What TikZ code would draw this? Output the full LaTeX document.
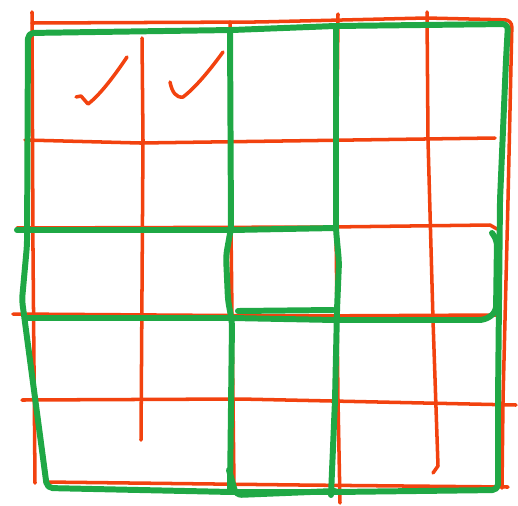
\documentclass[tikz,border=0pt]{standalone}
\usepackage{tikz}
\usetikzlibrary{calc}
\definecolor{pen}{HTML}{F2420F}
\definecolor{marker}{HTML}{1FA845}

\tikzset{
  redline/.style={pen,line width=5pt,line cap=round,line join=round},
  greenline/.style={marker,line width=8.5pt,line cap=round,line join=round,rounded corners=8pt}
}

\begin{document}
\begin{tikzpicture}[x=0.05cm,y=-0.05cm]
  \useasboundingbox (0,0) rectangle (518,505);

  % Red grid, vertical strokes
  \draw[redline] (32,12) -- (33,250) -- (35,483);
  \draw[redline] (142,38) -- (143,140) -- (141,440);
  \draw[redline] (230,22) -- (231,230) -- (234,486);
  \draw[redline] (338,14) -- (336,230) -- (338,400) -- (340,503);
  \draw[redline] (427,12) -- (428,140) -- (433,320) -- (438,466) -- (433,473);
  \draw[redline,rounded corners=10pt] (32,23) -- (258,22) -- (426,18) -- (512,20) -- (508,200) -- (503,400) -- (502,488);

  % Red grid, horizontal strokes
  \draw[redline] (25,140) -- (140,143) -- (495,138);
  \draw[redline] (17,228) -- (330,227) -- (490,225) -- (497,229);
  \draw[redline] (13,314) -- (300,316) -- (498,315);
  \draw[redline] (22,400) -- (240,399) -- (516,405);
  \draw[redline] (45,482) -- (300,485) -- (508,487);

  % Ticks
  \draw[redline] (76,97) -- (81,96) -- (88,104) .. controls (100,95) and (115,75) .. (127,57);
  \draw[redline] (170,82) .. controls (172,92) and (176,98) .. (183,97) .. controls (195,88) and (210,70) .. (223,52);

  % Green outline
  \draw[greenline] (28,33) -- (232,30) -- (335,26) -- (508,24) -- (506,60) -- (500,200) -- (498,400)
    -- (498,490) -- (335,492) -- (232,492) -- (47,488) -- (26,330) -- (22,300) -- (27,245) -- cycle;

  % Green bands
  \draw[greenline] (17,230) -- (232,230) -- (335,228);
  \draw[greenline] (27,318) -- (232,318) -- (335,320) -- (485,320) -- (496,312) -- (497,240) -- (492,233);
  \draw[greenline] (238,311) -- (333,310);
  \draw[greenline] (230,30) -- (231,228) -- (226,256) -- (228,300) -- (232,322) -- (230,492);
  \draw[greenline] (336,28) -- (336,230) -- (339,262) -- (337,310) -- (335,400) -- (331,495);
  \draw[greenline] (229,470) -- (236,495) -- (335,491);
\end{tikzpicture}
\end{document}
